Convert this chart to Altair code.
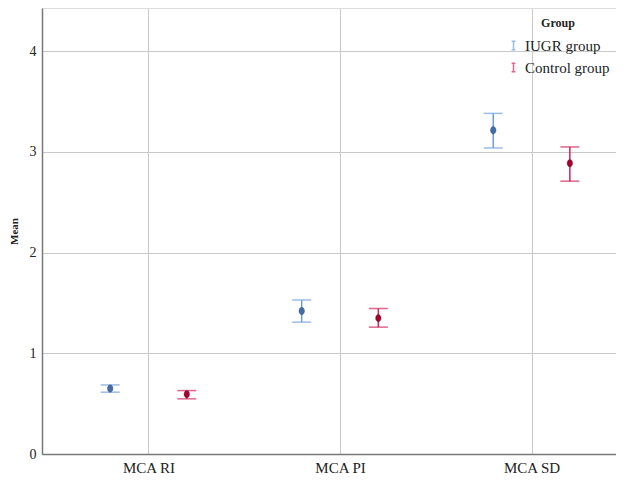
import altair as alt
import pandas as pd

categories = ["MCA RI", "MCA PI", "MCA SD"]
groups = ["IUGR group", "Control group"]
iugr_mean = [0.65, 1.42, 3.215]
iugr_low = [0.614, 1.31, 3.04]
iugr_high = [0.686, 1.53, 3.383]
ctrl_mean = [0.594, 1.35, 2.888]
ctrl_low = [0.548, 1.26, 2.71]
ctrl_high = [0.63, 1.445, 3.05]

rows = []
for i, c in enumerate(categories):
    rows.append(dict(cat=c, idx=i + 1, group="IUGR group", mean=iugr_mean[i], low=iugr_low[i], high=iugr_high[i]))
    rows.append(dict(cat=c, idx=i + 1, group="Control group", mean=ctrl_mean[i], low=ctrl_low[i], high=ctrl_high[i]))
df = pd.DataFrame(rows)

FONT = "Liberation Serif"
line_colors = ["#6e9fdc", "#d0265a"]
dot_fill = ["#3f6eae", "#a6002f"]
ibeam = "M-0.45,-1H0.45M0,-1V1M-0.45,1H0.45"

label_expr = "[" + ",".join("'" + c + "'" for c in categories) + "][datum.value-1]"

base = alt.Chart(df).transform_calculate(
    xpos="datum.idx + (datum.group == 'IUGR group' ? -0.2 : 0.2)"
)

x_enc = alt.X(
    "xpos:Q",
    scale=alt.Scale(domain=[0.444, 3.441], nice=False, zero=False),
    axis=alt.Axis(values=[1, 2, 3], labelExpr=label_expr, title=None, ticks=False,
                  grid=True, gridColor="#c8c8c8", labelFont=FONT, labelFontSize=15,
                  labelColor="#222", labelPadding=6, domainColor="#777", domainWidth=1.5),
)
y_scale = alt.Scale(domain=[0, 4.43], nice=False)
y_axis = alt.Axis(values=[0, 1, 2, 3, 4], format="d", title="Mean", titleFont=FONT, titleFontSize=11,
                  titleFontWeight="bold", titleColor="#222", titlePadding=10, ticks=False,
                  grid=True, gridColor="#c8c8c8", labelFont=FONT, labelFontSize=14,
                  labelColor="#222", labelPadding=6, domainColor="#777", domainWidth=1.5)

color_scale = alt.Scale(domain=groups, range=line_colors)
legend = alt.Legend(title="Group", orient="none", legendX=464, legendY=10,
                    symbolType=ibeam, symbolSize=70, symbolStrokeWidth=1.5,
                    titleFont=FONT, titleFontSize=12, titleFontWeight="bold",
                    titleColor="#222", titleAnchor="middle", titlePadding=8,
                    labelFont=FONT, labelFontSize=15, labelColor="#222",
                    rowPadding=6, labelOffset=4)

rules = base.mark_rule(strokeWidth=1.5).encode(
    x=x_enc,
    y=alt.Y("low:Q", scale=y_scale, axis=y_axis),
    y2="high:Q",
    color=alt.Color("group:N", scale=color_scale, sort=groups, legend=legend),
)
caps_low = base.mark_tick(orient="horizontal", size=19, thickness=1.5).encode(
    x="xpos:Q", y="low:Q",
    color=alt.Color("group:N", scale=color_scale, sort=groups, legend=legend),
)
caps_high = base.mark_tick(orient="horizontal", size=19, thickness=1.5).encode(
    x="xpos:Q", y="high:Q",
    color=alt.Color("group:N", scale=color_scale, sort=groups, legend=legend),
)
dots = base.mark_point(
    filled=True, opacity=1,
    shape="M-0.75,0A0.75,1,0,1,1,0.75,0A0.75,1,0,1,1,-0.75,0Z",
    size=55, stroke="#333", strokeWidth=0.5, strokeOpacity=0.6,
).encode(
    x="xpos:Q", y="mean:Q",
    fill=alt.Fill("group:N", scale=alt.Scale(domain=groups, range=dot_fill), legend=None),
)

chart = alt.layer(rules, caps_low, caps_high, dots).properties(
    width=574, height=446,
    padding={"left": 0, "top": 0, "right": 0, "bottom": 0},
).configure_view(stroke="#888", strokeWidth=1.5).configure(background="white")

chart.save("out.html", embed_options={"renderer": "svg", "actions": False})
